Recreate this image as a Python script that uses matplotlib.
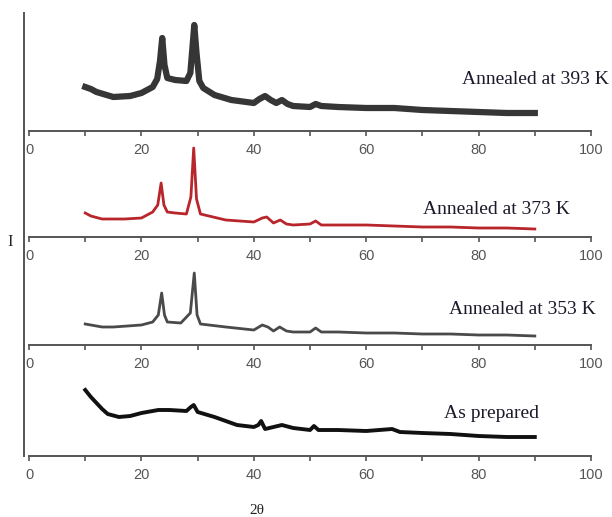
import numpy as np
import matplotlib.pyplot as plt

# 2theta 与强度（相对于各自横轴的高度，任意单位）
x_393 = [10, 11, 12, 15, 18, 20, 22, 22.8, 23.3, 23.7, 24.1, 24.6, 26, 28, 28.7, 29.1, 29.4, 29.8, 30.3, 31, 33, 36, 40, 41, 42, 43, 44, 45, 46, 47, 50, 51, 52, 55, 60, 65, 70, 75, 80, 85, 90]
y_393 = [44, 42, 39, 34, 35, 38, 44, 52, 70, 93, 66, 53, 51, 50, 58, 85, 106, 78, 50, 43, 36, 31, 28, 32, 35, 31, 28, 31, 27, 25, 24, 27, 25, 24, 23, 23, 21, 20, 19, 18, 18]

x_373 = [10, 11, 13, 17, 20, 22, 22.9, 23.5, 24.0, 24.6, 26, 28, 28.8, 29.3, 29.8, 30.5, 32, 35, 40, 41.5, 42.3, 43.5, 44.7, 45.8, 47, 50, 51, 52, 55, 60, 65, 70, 75, 80, 85, 90]
y_373 = [24, 21, 18, 18, 19, 25, 32, 54, 32, 25, 24, 23, 40, 89, 38, 23, 21, 17, 15, 19, 20, 14, 17, 13, 12, 13, 16, 12, 12, 12, 11, 10, 10, 9, 9, 8]

x_353 = [10, 11, 13, 15, 20, 22, 23.0, 23.6, 24.1, 24.6, 27, 28.7, 29.4, 29.9, 30.5, 32, 35, 40, 41.5, 42.5, 43.5, 44.6, 45.8, 47, 50, 51, 52, 55, 60, 65, 70, 75, 80, 85, 90]
y_353 = [21, 20, 18, 18, 20, 23, 30, 52, 30, 23, 22, 32, 72, 30, 21, 20, 18, 15, 20, 18, 14, 18, 14, 13, 13, 17, 13, 13, 12, 12, 11, 11, 10, 10, 9]

x_ap = [10, 11, 12, 13, 14, 16, 18, 20, 23, 25, 28, 28.8, 29.3, 30, 33, 37, 40, 40.8, 41.3, 42, 45, 47, 50, 50.7, 51.5, 55, 60, 64.6, 66, 70, 75, 80, 85, 90]
y_ap = [66, 59, 53, 47, 42, 39, 40, 43, 46, 46, 45, 49, 51, 44, 39, 31, 29, 31, 35, 27, 31, 28, 26, 30, 26, 26, 25, 27, 24, 23, 22, 20, 19, 19]

labels = ['Annealed at 393 K', 'Annealed at 373 K', 'Annealed at 353 K', 'As prepared']
xs = [x_393, x_373, x_353, x_ap]
ys = [y_393, y_373, y_353, y_ap]
colors = ['#363636', '#b8262b', '#4a4a4a', '#111111']
widths = [4.5, 2.0, 2.0, 2.8]

# 每个面板在图中的像素位置（上边界, 横轴）
W, H = 612, 517
bounds = [(13, 131), (131, 237), (237, 345), (345, 456)]
text_pos = [(535, 80), (496, 210), (522, 309), (491, 413)]

fig = plt.figure(figsize=(W / 100, H / 100), dpi=100)
left, right = 24 / W, 591 / W

for i in range(4):
  top, bot = bounds[i]
  ax = fig.add_axes([left, 1 - bot / H, right - left, (bot - top) / H])
  ax.plot(xs[i], ys[i], color=colors[i], lw=widths[i], solid_joinstyle='round')
  ax.set_xlim(-0.9, 100)
  ax.set_ylim(0, bot - top)
  ax.spines['top'].set_visible(False)
  ax.spines['right'].set_visible(False)
  ax.spines['bottom'].set_bounds(0, 100)
  for s in ['left', 'bottom']:
    ax.spines[s].set_color('#555555')
    ax.spines[s].set_linewidth(1.4)
  ax.set_yticks([])
  ax.set_xticks([0, 20, 40, 60, 80, 100])
  ax.set_xticks([10, 30, 50, 70, 90], minor=True)
  ax.tick_params(axis='x', which='both', direction='out', length=3.5, width=1.2,
                 color='#555555', labelcolor='#555555', labelsize=10.5, pad=5)
  for t in ax.get_xticklabels():
    t.set_fontfamily('Liberation Sans')
  ax.patch.set_alpha(0)
  fig.text(text_pos[i][0] / W, 1 - text_pos[i][1] / H, labels[i],
           ha='center', va='center', fontsize=14, family='Liberation Serif',
           color='#1a1a2a')

fig.text(10 / W, 1 - 242 / H, 'I', ha='center', va='center', fontsize=12,
         family='Liberation Serif', color='#222222')
fig.text(257 / W, 1 - 511 / H, '2θ', ha='center', va='center', fontsize=11,
         family=['Liberation Serif', 'DejaVu Serif'], color='#222222')

plt.savefig('out.png', dpi=100)
